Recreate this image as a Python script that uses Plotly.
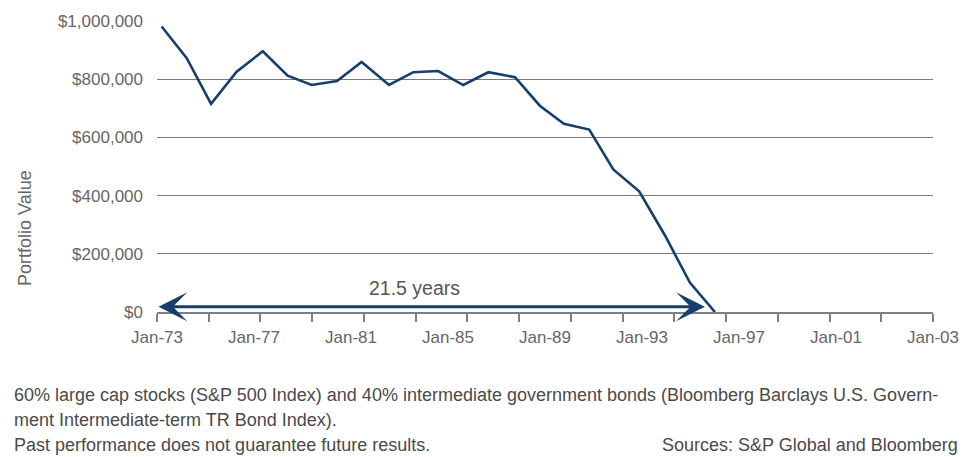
import plotly.graph_objects as go

# ---- data ----
years_since_jan73 = [0.18, 1.15, 2.09, 3.08, 4.09, 5.05, 5.98, 6.96, 7.91, 8.97, 9.91, 10.87,
                     11.84, 12.81, 13.84, 14.80, 15.73, 16.71, 17.64, 18.64, 19.64, 20.60, 21.57]
portfolio_value = [981000, 872000, 715000, 826000, 896000, 812000, 780000, 794000, 859000,
                   780000, 824000, 828000, 780000, 824000, 807000, 709000, 647000, 627000,
                   490000, 415000, 263000, 101000, 0]

x_label_pos = [0, 3.75, 7.5, 11.25, 15, 18.75, 22.5, 26.25, 30]
x_label_text = ["Jan-73", "Jan-77", "Jan-81", "Jan-85", "Jan-89", "Jan-93", "Jan-97", "Jan-01", "Jan-03"]
x_tick_marks = [0, 2, 4, 6, 8, 10, 12, 14, 16, 18, 20, 22, 24, 26, 28, 30]

y_tick_vals = [0, 200000, 400000, 600000, 800000, 1000000]
y_tick_text = ["$0", "$200,000", "$400,000", "$600,000", "$800,000", "$1,000,000"]

span_start, span_end = 0.0, 21.18
span_level = 18000
span_label = "21.5 years"

footnote_lines = [
    "60% large cap stocks (S&P 500 Index) and 40% intermediate government bonds (Bloomberg Barclays U.S. Govern-",
    "ment Intermediate-term TR Bond Index).",
    "Past performance does not guarantee future results.",
]
source_text = "Sources: S&P Global and Bloomberg"

NAVY = "#173F6E"
FONT = "Liberation Sans"
TICK_GRAY = "#666666"

# page body has an 8px default margin, so the figure is drawn 8px smaller
W, H = 963, 449
PL, PT, PW, PH = 149, 13, 776, 291   # plot area in figure pixels

def px(xr):  # reference x pixel -> paper x
    return (xr - 8 - PL) / PW

def py(yr):  # reference y pixel -> paper y
    return (PT + PH - (yr - 8)) / PH

fig = go.Figure()
fig.add_trace(go.Scatter(
    x=years_since_jan73, y=portfolio_value, mode="lines",
    line=dict(color=NAVY, width=2.6), showlegend=False, hoverinfo="skip", cliponaxis=False,
))
# invisible trace so the label axis is rendered
fig.add_trace(go.Scatter(
    x=[x_label_pos[0], x_label_pos[-1]], y=[0, 0], xaxis="x2", mode="markers",
    marker=dict(opacity=0), showlegend=False, hoverinfo="skip",
))

# double-headed span arrow
fig.add_annotation(
    x=span_end, y=span_level, ax=span_start, ay=span_level,
    xref="x", yref="y", axref="x", ayref="y",
    text="", showarrow=True, arrowside="end+start",
    arrowhead=3, startarrowhead=3, arrowsize=1.6, startarrowsize=1.6,
    arrowwidth=3, arrowcolor=NAVY,
)
fig.add_annotation(
    x=px(414), y=py(288), xref="paper", yref="paper",
    xanchor="center", yanchor="middle",
    text=span_label, showarrow=False,
    font=dict(family=FONT, size=19.5, color="#555555"),
)

# y axis title
fig.add_annotation(
    x=px(25), y=py(228), xref="paper", yref="paper", text="Portfolio Value",
    xanchor="center", yanchor="middle",
    textangle=-90, showarrow=False, font=dict(family=FONT, size=18, color=TICK_GRAY),
)

# footnotes
foot_y = [395, 420, 445]
for txt, yy in zip(footnote_lines, foot_y):
    fig.add_annotation(
        x=px(12), y=py(yy), xref="paper", yref="paper",
        xanchor="left", yanchor="middle", text=txt, showarrow=False,
        font=dict(family=FONT, size=18, color="#4a4a4a"),
    )
fig.add_annotation(
    x=px(960), y=py(445), xref="paper", yref="paper",
    xanchor="right", yanchor="middle", text=source_text, showarrow=False,
    font=dict(family=FONT, size=18, color="#4a4a4a"),
)

fig.update_layout(
    width=W, height=H,
    margin=dict(l=PL, r=W - PL - PW, t=PT, b=H - PT - PH, pad=0, autoexpand=False),
    paper_bgcolor="white", plot_bgcolor="white",
    font=dict(family=FONT, size=17, color=TICK_GRAY),
    xaxis=dict(
        range=[0, 30], tickmode="array", tickvals=x_tick_marks, showticklabels=False,
        ticks="outside", ticklen=8, tickwidth=2, tickcolor="#808080",
        showline=True, linecolor="#808080", linewidth=2,
        showgrid=False, zeroline=False, automargin=False,
    ),
    xaxis2=dict(
        range=[0, 30], overlaying="x", side="bottom", anchor="y",
        tickmode="array", tickvals=x_label_pos, ticktext=x_label_text,
        ticks="outside", ticklen=10, tickcolor="rgba(0,0,0,0)",
        tickfont=dict(family=FONT, size=17, color=TICK_GRAY),
        showline=False, showgrid=False, zeroline=False, automargin=False,
    ),
    yaxis=dict(
        range=[0, 1000000], tickmode="array", tickvals=y_tick_vals, ticktext=y_tick_text,
        tickfont=dict(family=FONT, size=17, color=TICK_GRAY),
        showgrid=True, gridcolor="#7a7a7a", gridwidth=1,
        zeroline=False, showline=False, ticks="", ticklabelstandoff=13, automargin=False,
    ),
)

fig.write_html("out.html")
